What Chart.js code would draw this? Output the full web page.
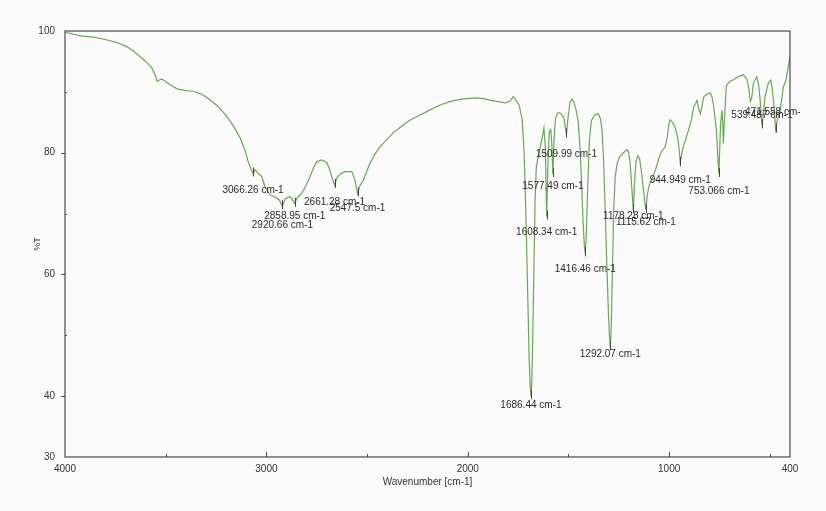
<!DOCTYPE html>
<html>
<head>
<meta charset="utf-8">
<script src="https://cdn.jsdelivr.net/npm/chart.js@4.4.1/dist/chart.umd.min.js"></script>
<style>
  html, body { margin: 0; padding: 0; background: #fbfbfb; }
  #wrap { width: 826px; height: 511px; }
</style>
</head>
<body>
<div id="wrap"><canvas id="ir-chart" width="826" height="511"></canvas></div>
<script>
// IR spectrum (wavenumber in cm-1, %T)
const wavenumbers = [
  4000, 3960, 3925, 3861, 3800, 3742, 3692, 3660, 3628, 3600, 3568, 3550, 3543, 3530, 3518,
  3480, 3444, 3400, 3364, 3320, 3280, 3240, 3195, 3160, 3130, 3106, 3090, 3075, 3066.26, 3056,
  3040, 3023, 3007, 2982, 2949, 2935, 2920.66, 2907, 2885, 2872, 2858.95, 2849, 2825, 2800, 2783,
  2765, 2750, 2725, 2700, 2685, 2676, 2661.28, 2648, 2630, 2610, 2576, 2560, 2547.5, 2535, 2520,
  2485, 2460, 2436, 2403, 2370, 2338, 2290, 2237, 2190, 2140, 2090, 2035, 1960, 1920, 1886,
  1850, 1812, 1790, 1775, 1760, 1745, 1730, 1720, 1710, 1702, 1695, 1690, 1686.44, 1682, 1677,
  1671, 1666, 1660, 1650, 1640, 1630, 1622, 1615, 1608.34, 1601, 1595, 1588, 1582, 1577.49, 1572,
  1565, 1555, 1545, 1534, 1522, 1515, 1509.99, 1503, 1492, 1484, 1474, 1462, 1452, 1444, 1436,
  1428, 1421, 1416.46, 1411, 1404, 1396, 1386, 1370, 1352, 1342, 1334, 1326, 1318, 1310, 1302,
  1296, 1292.07, 1287, 1281, 1275, 1268, 1258, 1245, 1227, 1210, 1202, 1194, 1186, 1178.28, 1172,
  1165, 1155, 1147, 1138, 1128, 1120, 1115.62, 1109, 1098, 1085, 1078, 1065, 1050, 1038, 1029,
  1020, 1010, 1000, 995, 987, 979, 967, 955, 949, 944.949, 938, 928, 915, 900, 888,
  878, 870, 862, 852, 845, 838, 828, 813, 797, 788, 780, 772, 765, 758, 753.066,
  749, 745, 738, 734, 731, 727, 722, 716, 700, 680, 656, 632, 615, 604, 597,
  590, 582, 565, 555, 548, 539.487, 532, 524, 508, 496, 488, 480, 471.558, 462, 450,
  440, 433, 420, 409, 400
];
const transmittance = [
  99.8, 99.5, 99.2, 99.0, 98.6, 98.1, 97.4, 96.7, 95.8, 95.0, 93.9, 92.6, 91.7, 92.0, 92.1,
  91.2, 90.5, 90.2, 90.1, 89.6, 88.7, 87.6, 85.9, 84.2, 82.4, 80.4, 78.5, 77.2, 76.6, 77.2,
  76.6, 76.1, 74.4, 73.1, 72.6, 72.2, 71.2, 72.4, 72.8, 72.4, 71.6, 72.5, 73.3, 74.8, 76.1,
  77.6, 78.5, 78.8, 78.4, 77.2, 76.1, 74.7, 76.0, 76.6, 76.9, 76.9, 75.5, 73.3, 74.6, 75.4,
  78.3, 79.8, 81.0, 82.1, 83.3, 84.1, 85.3, 86.2, 87.0, 87.8, 88.4, 88.8, 89.0, 88.9, 88.6,
  88.4, 88.2, 88.5, 89.2, 88.6, 87.8, 85.5, 80.0, 68.0, 56.0, 46.0, 41.5, 40.0, 42.5, 50.0,
  62.0, 72.0, 77.5, 79.5, 81.0, 82.5, 84.0, 81.0, 69.5, 79.5, 83.5, 83.8, 81.0, 76.5, 82.0,
  85.5, 86.5, 86.6, 86.3, 85.6, 84.0, 83.0, 85.5, 88.3, 88.8, 88.4, 87.0, 85.2, 81.5, 76.0,
  69.0, 64.5, 63.5, 67.0, 75.0, 82.0, 85.3, 86.2, 86.4, 85.6, 84.0, 79.0, 71.0, 62.0, 54.0,
  49.5, 48.0, 52.0, 62.0, 71.0, 76.0, 78.3, 79.4, 80.0, 80.5, 80.2, 78.5, 74.5, 70.6, 75.0,
  78.5, 79.5, 79.0, 77.0, 74.0, 71.5, 70.6, 73.0, 74.8, 75.8, 76.2, 77.5, 79.2, 80.2, 80.6,
  80.9, 82.5, 85.0, 85.4, 85.1, 84.8, 83.8, 82.0, 80.0, 78.3, 79.8, 81.2, 82.5, 84.2, 85.6,
  87.6, 88.0, 88.6, 87.0, 86.4, 87.5, 89.2, 89.6, 89.8, 89.3, 87.8, 85.6, 83.5, 79.0, 76.5,
  80.5, 84.5, 87.0, 85.0, 81.5, 84.5, 87.5, 91.0, 91.7, 92.0, 92.5, 92.8, 92.2, 90.5, 88.4,
  89.0, 91.4, 92.5, 91.0, 88.5, 84.5, 86.5, 89.2, 91.4, 91.9, 90.5, 88.0, 83.8, 85.5, 86.8,
  89.0, 90.8, 91.9, 94.1, 95.8
];

// labelled peaks
const peakWavenumbers = [3066.26, 2920.66, 2858.95, 2661.28, 2547.5, 1686.44, 1608.34, 1577.49,
  1509.99, 1416.46, 1292.07, 1178.28, 1115.62, 944.949, 753.066, 539.487, 471.558];
const peakLabels = ['3066.26 cm-1', '2920.66 cm-1', '2858.95 cm-1', '2661.28 cm-1', '2547.5 cm-1',
  '1686.44 cm-1', '1608.34 cm-1', '1577.49 cm-1', '1509.99 cm-1', '1416.46 cm-1', '1292.07 cm-1',
  '1178.28 cm-1', '1115.62 cm-1', '944.949 cm-1', '753.066 cm-1', '539.487 cm-1', '471.558 cm-1'];

// axis ticks
const xTickValues = [4000, 3500, 3000, 2500, 2000, 1500, 1000, 500, 400];
const xTickLabels = [4000, 3000, 2000, 1000, 400];
const yTickValues = [30, 40, 50, 60, 70, 80, 90, 100];
const yTickLabels = [30, 40, 60, 80, 100];

// how far (px) each label text sits below its peak
const labelDrop = [17, 19, 12, 17, 15, 9, 16, 12, 20, 16, 7, 6, 12, 17, 17, -10, -17];

const FONT = '"Liberation Sans", Arial, sans-serif';
const INK = '#333';

const frameAndTicks = {
  id: 'frameAndTicks',
  afterDraw(chart) {
    const { ctx, chartArea: a, scales: { x, y } } = chart;
    ctx.save();
    ctx.strokeStyle = '#4a4a4a';
    ctx.lineWidth = 1.2;
    ctx.strokeRect(a.left, a.top, a.right - a.left, a.bottom - a.top);
    ctx.lineWidth = 1;
    ctx.beginPath();
    xTickValues.forEach(v => {
      if (v === 4000 || v === 400) return;
      const px = Math.round(x.getPixelForValue(v)) + 0.5;
      const len = v % 1000 === 0 ? 5 : 3;
      ctx.moveTo(px, a.bottom);
      ctx.lineTo(px, a.bottom - len);
    });
    yTickValues.forEach(v => {
      if (v === 30 || v === 100) return;
      const py = Math.round(y.getPixelForValue(v)) + 0.5;
      if (yTickLabels.includes(v)) {
        ctx.moveTo(a.left, py);
        ctx.lineTo(a.left - 4, py);
      } else {
        ctx.moveTo(a.left, py);
        ctx.lineTo(a.left + 2, py);
      }
    });
    ctx.stroke();
    ctx.restore();
  }
};

const peakMarks = {
  id: 'peakMarks',
  afterDatasetsDraw(chart) {
    const { ctx, scales: { x, y } } = chart;
    ctx.save();
    ctx.beginPath();
    ctx.rect(0, 0, 800, 511);
    ctx.clip();
    ctx.font = '10px ' + FONT;
    ctx.textAlign = 'center';
    ctx.textBaseline = 'middle';
    peakWavenumbers.forEach((w, i) => {
      const idx = wavenumbers.indexOf(w);
      const px = x.getPixelForValue(w);
      const py = y.getPixelForValue(transmittance[idx]);
      ctx.strokeStyle = '#444';
      ctx.lineWidth = 1;
      ctx.beginPath();
      ctx.moveTo(Math.round(px) + 0.5, py - 6);
      ctx.lineTo(Math.round(px) + 0.5, py + 3);
      ctx.stroke();
      ctx.fillStyle = '#2a2a2a';
      ctx.fillText(peakLabels[i], px, py + labelDrop[i]);
    });
    ctx.restore();
  }
};

const ctx = document.getElementById('ir-chart').getContext('2d');
const chart = new Chart(ctx, {
  type: 'line',
  data: {
    datasets: [{
      label: '%T',
      data: wavenumbers.map((w, i) => ({ x: w, y: transmittance[i] })),
      borderColor: 'rgb(104, 168, 84)',
      borderWidth: 1.2,
      pointRadius: 0,
      tension: 0,
      fill: false
    }]
  },
  options: {
    responsive: false,
    animation: false,
    devicePixelRatio: 1,
    layout: { padding: { left: 0, top: 31, right: 36, bottom: 0 } },
    plugins: {
      legend: { display: false },
      tooltip: { enabled: false }
    },
    scales: {
      x: {
        type: 'linear',
        reverse: true,
        min: 400,
        max: 4000,
        afterBuildTicks: (scale) => { scale.ticks = xTickValues.map(v => ({ value: v })); },
        afterFit: (scale) => { scale.height = 54; },
        grid: { display: false },
        border: { display: false },
        ticks: {
          autoSkip: false,
          maxRotation: 0,
          padding: -2,
          color: INK,
          font: { family: FONT, size: 10 },
          callback: (v) => xTickLabels.includes(v) ? String(v) : ''
        },
        title: {
          display: true,
          text: 'Wavenumber [cm-1]',
          color: INK,
          font: { family: FONT, size: 10 },
          padding: { top: 0, bottom: 23 }
        }
      },
      y: {
        min: 30,
        max: 100,
        afterBuildTicks: (scale) => { scale.ticks = yTickValues.map(v => ({ value: v })); },
        afterFit: (scale) => { scale.width = 65; },
        grid: { display: false },
        border: { display: false },
        ticks: {
          autoSkip: false,
          padding: 2,
          color: INK,
          font: { family: FONT, size: 10 },
          callback: (v) => yTickLabels.includes(v) ? String(v) : ''
        },
        title: {
          display: true,
          text: '%T',
          color: INK,
          font: { family: FONT, size: 9 },
          padding: { top: 32, bottom: 0 }
        }
      }
    }
  },
  plugins: [frameAndTicks, peakMarks]
});
</script>
</body>
</html>
